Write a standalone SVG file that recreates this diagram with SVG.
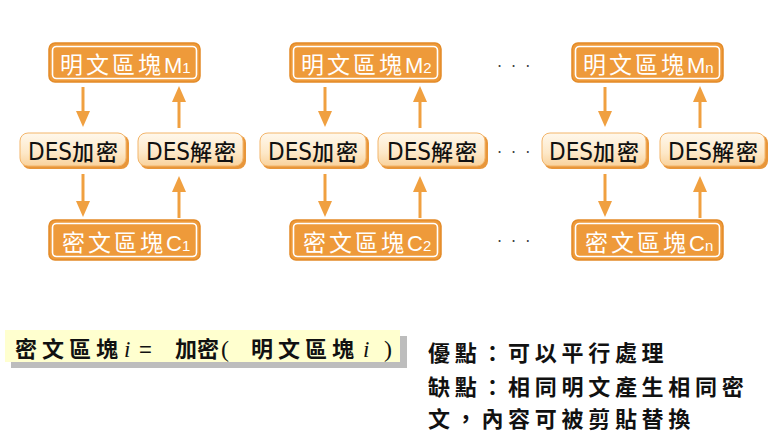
<svg xmlns="http://www.w3.org/2000/svg" width="769" height="443" viewBox="0 0 769 443">
<defs>
<style>
.blk rect.o{fill:#EE9A3A;stroke:#E38B28;stroke-width:1.5}
.blk rect.i{fill:none;stroke:#FFFFFF;stroke-width:1.6}
.blk text{fill:#FFFFFF;font-family:"Noto Sans CJK TC","Noto Sans",sans-serif;font-size:23px}
.des rect.s{fill:#E8963A}
.des rect.f{fill:url(#g);stroke:#F3B56A;stroke-width:1}
.des text{fill:#111;font-family:"DejaVu Sans Condensed","DejaVu Sans",sans-serif;font-size:24px}
.des .c{font-family:"Noto Sans CJK TC",sans-serif;font-size:22px;font-weight:500;letter-spacing:2px}
.arr line{stroke:#F0A040;stroke-width:3}
.arr polygon{fill:#F0A040}
.dots{fill:#444;font-family:"DejaVu Sans",sans-serif;font-size:16px;letter-spacing:9px}
.note{fill:#111;font-family:"Noto Sans CJK TC",sans-serif;font-weight:bold;font-size:22px}
</style>
<linearGradient id="g" x1="0" y1="0" x2="0" y2="1">
<stop offset="0" stop-color="#FFF8EC"/>
<stop offset="0.6" stop-color="#FDE8C8"/>
<stop offset="1" stop-color="#F9D29C"/>
</linearGradient>
</defs>
<rect width="769" height="443" fill="#FFFFFF"/>

<g id="connectors" class="arr">
<line x1="83" y1="87" x2="83" y2="114"/><polygon points="76,111 90,111 83,127"/>
<line x1="179" y1="128" x2="179" y2="100"/><polygon points="172,102 186,102 179,86"/>
<line x1="83" y1="174" x2="83" y2="204"/><polygon points="76,201 90,201 83,217"/>
<line x1="179" y1="218" x2="179" y2="190"/><polygon points="172,192 186,192 179,176"/>
<line x1="325" y1="87" x2="325" y2="114"/><polygon points="318,111 332,111 325,127"/>
<line x1="420" y1="128" x2="420" y2="100"/><polygon points="413,102 427,102 420,86"/>
<line x1="325" y1="174" x2="325" y2="204"/><polygon points="318,201 332,201 325,217"/>
<line x1="420" y1="218" x2="420" y2="190"/><polygon points="413,192 427,192 420,176"/>
<line x1="605" y1="87" x2="605" y2="114"/><polygon points="598,111 612,111 605,127"/>
<line x1="700" y1="128" x2="700" y2="100"/><polygon points="693,102 707,102 700,86"/>
<line x1="605" y1="174" x2="605" y2="204"/><polygon points="598,201 612,201 605,217"/>
<line x1="700" y1="218" x2="700" y2="190"/><polygon points="693,192 707,192 700,176"/>
</g>

<g id="m1" class="blk"><rect class="o" x="49" y="43" width="151" height="39" rx="6"/><rect class="i" x="52.5" y="46.5" width="144" height="32" rx="4"/><text x="60" y="73"><tspan letter-spacing="3">明文區塊</tspan><tspan font-family="'Liberation Sans',sans-serif" font-size="22">M</tspan><tspan font-family="'Liberation Sans',sans-serif" font-size="15">1</tspan></text></g>
<g id="m2" class="blk"><rect class="o" x="290" y="43" width="151" height="39" rx="6"/><rect class="i" x="293.5" y="46.5" width="144" height="32" rx="4"/><text x="301" y="73"><tspan letter-spacing="3">明文區塊</tspan><tspan font-family="'Liberation Sans',sans-serif" font-size="22">M</tspan><tspan font-family="'Liberation Sans',sans-serif" font-size="15">2</tspan></text></g>
<g id="mn" class="blk"><rect class="o" x="572" y="43" width="151" height="39" rx="6"/><rect class="i" x="575.5" y="46.5" width="144" height="32" rx="4"/><text x="583" y="73"><tspan letter-spacing="3">明文區塊</tspan><tspan font-family="'Liberation Sans',sans-serif" font-size="22">M</tspan><tspan font-family="'Liberation Sans',sans-serif" font-size="15">n</tspan></text></g>

<g id="c1" class="blk"><rect class="o" x="49" y="220" width="151" height="40" rx="6"/><rect class="i" x="52.5" y="223.5" width="144" height="33" rx="4"/><text x="62" y="251"><tspan letter-spacing="3">密文區塊</tspan><tspan font-family="'Liberation Sans',sans-serif" font-size="22">C</tspan><tspan font-family="'Liberation Sans',sans-serif" font-size="15">1</tspan></text></g>
<g id="c2" class="blk"><rect class="o" x="290" y="220" width="151" height="40" rx="6"/><rect class="i" x="293.5" y="223.5" width="144" height="33" rx="4"/><text x="303" y="251"><tspan letter-spacing="3">密文區塊</tspan><tspan font-family="'Liberation Sans',sans-serif" font-size="22">C</tspan><tspan font-family="'Liberation Sans',sans-serif" font-size="15">2</tspan></text></g>
<g id="cn" class="blk"><rect class="o" x="572" y="220" width="151" height="40" rx="6"/><rect class="i" x="575.5" y="223.5" width="144" height="33" rx="4"/><text x="585" y="251"><tspan letter-spacing="3">密文區塊</tspan><tspan font-family="'Liberation Sans',sans-serif" font-size="22">C</tspan><tspan font-family="'Liberation Sans',sans-serif" font-size="15">n</tspan></text></g>

<g id="enc1" class="des"><rect class="s" x="22" y="135" width="107" height="34" rx="8"/><rect class="f" x="20" y="133" width="106" height="33" rx="8"/><text x="28" y="160">DES<tspan class="c">加密</tspan></text></g>
<g id="dec1" class="des"><rect class="s" x="140" y="135" width="106" height="34" rx="8"/><rect class="f" x="138" y="133" width="105" height="33" rx="8"/><text x="146" y="160">DES<tspan class="c">解密</tspan></text></g>
<g id="enc2" class="des"><rect class="s" x="262" y="135" width="107" height="34" rx="8"/><rect class="f" x="260" y="133" width="106" height="33" rx="8"/><text x="268" y="160">DES<tspan class="c">加密</tspan></text></g>
<g id="dec2" class="des"><rect class="s" x="380" y="135" width="108" height="34" rx="8"/><rect class="f" x="378" y="133" width="107" height="33" rx="8"/><text x="387" y="160">DES<tspan class="c">解密</tspan></text></g>
<g id="enc3" class="des"><rect class="s" x="544" y="135" width="105" height="34" rx="8"/><rect class="f" x="542" y="133" width="104" height="33" rx="8"/><text x="549" y="160">DES<tspan class="c">加密</tspan></text></g>
<g id="dec3" class="des"><rect class="s" x="662" y="135" width="106" height="34" rx="8"/><rect class="f" x="660" y="133" width="105" height="33" rx="8"/><text x="668" y="160">DES<tspan class="c">解密</tspan></text></g>

<g id="dots">
<text class="dots" x="497" y="72">···</text>
<text class="dots" x="497" y="158">···</text>
<text class="dots" x="497" y="247">···</text>
</g>

<g id="formula">
<rect x="11" y="336" width="396" height="32" fill="#BDBDBD"/>
<rect x="5" y="330" width="395" height="32" fill="#FFFFCF"/>
<text class="note" y="357"><tspan x="15" letter-spacing="5">密文區塊</tspan><tspan x="124" font-family="'Liberation Serif',serif" font-style="italic" font-weight="normal" font-size="23">i</tspan><tspan x="139" font-family="'Liberation Sans',sans-serif" font-weight="normal">=</tspan><tspan x="175">加密</tspan><tspan x="221" font-family="'Liberation Serif',serif" font-weight="normal" font-size="24">(</tspan><tspan x="251" letter-spacing="5">明文區塊</tspan><tspan x="363" font-family="'Liberation Serif',serif" font-style="italic" font-weight="normal" font-size="23">i</tspan><tspan x="384" font-family="'Liberation Serif',serif" font-weight="normal" font-size="24">)</tspan></text>
</g>

<g id="notes">
<text class="note" x="428" y="361" letter-spacing="4.7">優點：可以平行處理</text>
<text class="note" x="428" y="395" letter-spacing="4.7">缺點：相同明文產生相同密</text>
<text class="note" x="428" y="427" letter-spacing="4.7">文，內容可被剪貼替換</text>
</g>
</svg>
